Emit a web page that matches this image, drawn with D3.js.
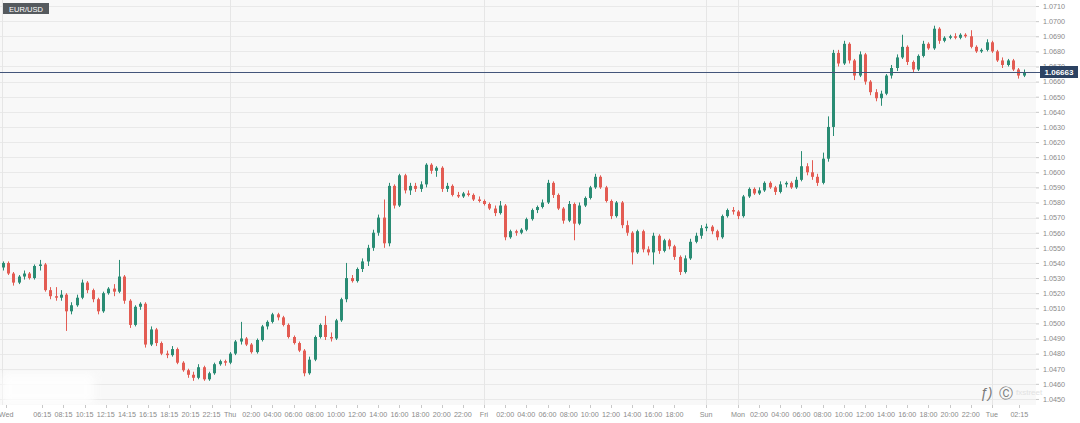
<!DOCTYPE html>
<html>
<head>
<meta charset="utf-8">
<script src="https://cdn.jsdelivr.net/npm/d3@7"></script>
<style>
    body { margin: 0; background: #fff; }
    svg { display: block; font-family: "Liberation Sans", Arial, sans-serif; }
</style>
</head>
<body>
<svg id="chart" width="1080" height="423"></svg>
<script>
const symbol = "EUR/USD";
const lastPrice = 1.06663;

// price grid / axis labels
const yTicks = [1.0450, 1.0460, 1.0470, 1.0480, 1.0490, 1.0500, 1.0510, 1.0520, 1.0530, 1.0540,
    1.0550, 1.0560, 1.0570, 1.0580, 1.0590, 1.0600, 1.0610, 1.0620, 1.0630, 1.0640,
    1.0650, 1.0660, 1.0670, 1.0680, 1.0690, 1.0700, 1.0710];

// time axis: position in candle index (30 min candles, weekend collapsed)
const xTickIndex = [0.65, 7.5, 11.5, 15.5, 19.5, 23.5, 27.5, 31.5, 35.5, 39.5,
    43, 47, 51, 55, 59, 63, 67, 71, 75, 79, 83, 87,
    91, 95, 99, 103, 107, 111, 115, 119, 123, 127,
    133, 139, 143, 147, 151, 155, 159, 163, 167, 171, 175, 179, 183,
    187, 192.2];
const xTickLabels = ["Wed", "06:15", "08:15", "10:15", "12:15", "14:15", "16:15", "18:15", "20:15", "22:15",
    "Thu", "02:00", "04:00", "06:00", "08:00", "10:00", "12:00", "14:00", "16:00", "18:00", "20:00", "22:00",
    "Fri", "02:00", "04:00", "06:00", "08:00", "10:00", "12:00", "14:00", "16:00", "18:00",
    "Sun", "Mon", "02:00", "04:00", "06:00", "08:00", "10:00", "12:00", "14:00", "16:00", "18:00", "20:00", "22:00",
    "Tue", "02:15"];
const daySeparators = [-0.2, 43, 91, 133, 139, 187];

// [open, high, low, close]
const ohlc = [
    [1.0537,1.0541,1.0535,1.0540],[1.0540,1.0541,1.0532,1.0533],[1.0533,1.0534,1.0525,1.0527],[1.0527,1.0532,1.0526,1.0531],
    [1.0531,1.0535,1.0529,1.0533],[1.0533,1.0534,1.0529,1.0530],[1.0530,1.0539,1.0529,1.0538],[1.0538,1.0542,1.0535,1.0539],
    [1.0539,1.0540,1.0521,1.0522],[1.0522,1.0524,1.0516,1.0518],[1.0518,1.0524,1.0515,1.0517],[1.0517,1.0522,1.0515,1.0519],
    [1.0519,1.0520,1.0495,1.0508],[1.0508,1.0514,1.0506,1.0512],[1.0512,1.0519,1.0511,1.0517],[1.0517,1.0529,1.0516,1.0527],
    [1.0527,1.0528,1.0520,1.0522],[1.0522,1.0523,1.0514,1.0516],[1.0516,1.0517,1.0506,1.0508],[1.0508,1.0521,1.0507,1.0520],
    [1.0520,1.0524,1.0519,1.0523],[1.0523,1.0526,1.0518,1.0521],[1.0521,1.0542,1.0520,1.0531],[1.0531,1.0532,1.0513,1.0515],
    [1.0515,1.0516,1.0497,1.0499],[1.0499,1.0512,1.0498,1.0511],[1.0511,1.0514,1.0509,1.0513],[1.0513,1.0514,1.0484,1.0486],
    [1.0486,1.0498,1.0485,1.0496],[1.0496,1.0497,1.0485,1.0487],[1.0487,1.0488,1.0479,1.0480],[1.0480,1.0482,1.0477,1.0479],
    [1.0479,1.0485,1.0478,1.0483],[1.0483,1.0484,1.0473,1.0474],[1.0474,1.0475,1.0468,1.0469],[1.0469,1.0470,1.0464,1.0466],
    [1.0466,1.0468,1.0462,1.0464],[1.0464,1.0473,1.0463,1.0471],[1.0471,1.0472,1.0462,1.0463],[1.0463,1.0468,1.0462,1.0467],
    [1.0467,1.0474,1.0466,1.0473],[1.0473,1.0476,1.0472,1.0475],[1.0475,1.0476,1.0472,1.0474],[1.0474,1.0481,1.0473,1.0480],
    [1.0480,1.0489,1.0479,1.0488],[1.0488,1.0501,1.0486,1.0490],[1.0490,1.0491,1.0485,1.0486],[1.0486,1.0487,1.0480,1.0481],
    [1.0481,1.0490,1.0480,1.0489],[1.0489,1.0499,1.0488,1.0498],[1.0498,1.0502,1.0496,1.0501],[1.0501,1.0507,1.0500,1.0506],
    [1.0506,1.0507,1.0502,1.0504],[1.0504,1.0505,1.0498,1.0499],[1.0499,1.0500,1.0490,1.0491],[1.0491,1.0492,1.0486,1.0487],
    [1.0487,1.0488,1.0481,1.0482],[1.0482,1.0483,1.0465,1.0467],[1.0467,1.0478,1.0466,1.0476],[1.0476,1.0492,1.0475,1.0491],
    [1.0491,1.0500,1.0490,1.0499],[1.0499,1.0505,1.0489,1.0491],[1.0491,1.0494,1.0488,1.0490],[1.0490,1.0503,1.0489,1.0502],
    [1.0502,1.0517,1.0501,1.0516],[1.0516,1.0540,1.0514,1.0530],[1.0530,1.0532,1.0527,1.0528],[1.0528,1.0537,1.0527,1.0536],
    [1.0536,1.0543,1.0534,1.0541],[1.0541,1.0552,1.0538,1.0550],[1.0550,1.0562,1.0548,1.0560],[1.0560,1.0572,1.0558,1.0570],
    [1.0570,1.0582,1.0550,1.0553],[1.0553,1.0593,1.0551,1.0591],[1.0591,1.0592,1.0576,1.0578],[1.0578,1.0599,1.0577,1.0598],
    [1.0598,1.0599,1.0586,1.0588],[1.0588,1.0593,1.0585,1.0591],[1.0591,1.0593,1.0587,1.0589],[1.0589,1.0594,1.0587,1.0592],
    [1.0592,1.0606,1.0590,1.0605],[1.0605,1.0606,1.0599,1.0601],[1.0601,1.0604,1.0597,1.0603],[1.0603,1.0604,1.0587,1.0589],
    [1.0589,1.0593,1.0587,1.0591],[1.0591,1.0592,1.0584,1.0585],[1.0585,1.0587,1.0583,1.0584],[1.0584,1.0587,1.0583,1.0586],
    [1.0586,1.0588,1.0584,1.0585],[1.0585,1.0586,1.0581,1.0582],[1.0582,1.0584,1.0580,1.0581],[1.0581,1.0582,1.0578,1.0579],
    [1.0579,1.0580,1.0575,1.0576],[1.0576,1.0578,1.0571,1.0573],[1.0573,1.0581,1.0572,1.0578],[1.0578,1.0579,1.0555,1.0557],
    [1.0557,1.0562,1.0556,1.0561],[1.0561,1.0562,1.0558,1.0560],[1.0560,1.0563,1.0559,1.0562],[1.0562,1.0570,1.0561,1.0569],
    [1.0569,1.0576,1.0568,1.0575],[1.0575,1.0578,1.0573,1.0577],[1.0577,1.0582,1.0576,1.0580],[1.0580,1.0595,1.0579,1.0593],
    [1.0593,1.0594,1.0583,1.0585],[1.0585,1.0586,1.0575,1.0576],[1.0576,1.0577,1.0566,1.0568],[1.0568,1.0581,1.0567,1.0579],
    [1.0579,1.0580,1.0555,1.0566],[1.0566,1.0580,1.0565,1.0578],[1.0578,1.0584,1.0577,1.0583],[1.0583,1.0591,1.0582,1.0590],
    [1.0590,1.0599,1.0589,1.0597],[1.0597,1.0598,1.0589,1.0590],[1.0590,1.0591,1.0580,1.0581],[1.0581,1.0582,1.0569,1.0571],
    [1.0571,1.0581,1.0570,1.0580],[1.0580,1.0581,1.0563,1.0565],[1.0565,1.0568,1.0558,1.0560],[1.0560,1.0561,1.0539,1.0547],
    [1.0547,1.0562,1.0546,1.0561],[1.0561,1.0562,1.0547,1.0549],[1.0549,1.0551,1.0545,1.0547],[1.0547,1.0560,1.0539,1.0558],
    [1.0558,1.0559,1.0546,1.0548],[1.0548,1.0556,1.0547,1.0555],[1.0555,1.0556,1.0549,1.0551],[1.0551,1.0552,1.0542,1.0544],
    [1.0544,1.0545,1.0532,1.0534],[1.0534,1.0545,1.0533,1.0543],[1.0543,1.0556,1.0542,1.0554],[1.0554,1.0560,1.0553,1.0558],
    [1.0558,1.0565,1.0556,1.0563],[1.0563,1.0566,1.0561,1.0564],[1.0564,1.0565,1.0559,1.0561],[1.0561,1.0562,1.0555,1.0557],
    [1.0557,1.0572,1.0556,1.0571],[1.0571,1.0576,1.0570,1.0575],[1.0575,1.0577,1.0572,1.0574],[1.0574,1.0575,1.0569,1.0571],
    [1.0571,1.0585,1.0570,1.0584],[1.0584,1.0590,1.0583,1.0589],[1.0589,1.0590,1.0585,1.0586],[1.0586,1.0590,1.0585,1.0588],
    [1.0588,1.0594,1.0587,1.0593],[1.0593,1.0594,1.0589,1.0590],[1.0590,1.0591,1.0585,1.0587],[1.0587,1.0594,1.0586,1.0592],
    [1.0592,1.0594,1.0590,1.0593],[1.0593,1.0594,1.0589,1.0590],[1.0590,1.0597,1.0589,1.0595],[1.0595,1.0614,1.0594,1.0604],
    [1.0604,1.0606,1.0598,1.0600],[1.0600,1.0608,1.0595,1.0597],[1.0597,1.0599,1.0591,1.0593],[1.0593,1.0613,1.0592,1.0609],
    [1.0609,1.0637,1.0607,1.0630],[1.0630,1.0681,1.0624,1.0679],[1.0679,1.0681,1.0670,1.0672],[1.0672,1.0687,1.0671,1.0685],
    [1.0685,1.0686,1.0672,1.0674],[1.0674,1.0675,1.0661,1.0664],[1.0664,1.0680,1.0663,1.0678],[1.0678,1.0679,1.0658,1.0660],
    [1.0660,1.0661,1.0651,1.0653],[1.0653,1.0655,1.0647,1.0649],[1.0649,1.0654,1.0644,1.0652],[1.0652,1.0665,1.0651,1.0664],
    [1.0664,1.0671,1.0662,1.0669],[1.0669,1.0678,1.0667,1.0676],[1.0676,1.0691,1.0675,1.0683],[1.0683,1.0684,1.0671,1.0673],
    [1.0673,1.0674,1.0666,1.0668],[1.0668,1.0678,1.0667,1.0677],[1.0677,1.0687,1.0676,1.0685],[1.0685,1.0686,1.0681,1.0682],
    [1.0682,1.0697,1.0681,1.0695],[1.0695,1.0696,1.0685,1.0687],[1.0687,1.0690,1.0686,1.0689],[1.0689,1.0691,1.0688,1.0690],
    [1.0690,1.0692,1.0688,1.0689],[1.0689,1.0692,1.0688,1.0691],[1.0691,1.0692,1.0689,1.0690],[1.0690,1.0694,1.0682,1.0683],
    [1.0683,1.0684,1.0679,1.0680],[1.0680,1.0682,1.0679,1.0681],[1.0681,1.0688,1.0680,1.0686],[1.0686,1.0687,1.0679,1.0680],
    [1.0680,1.0681,1.0673,1.0674],[1.0674,1.0676,1.0669,1.0671],[1.0671,1.0675,1.0670,1.0674],[1.0674,1.0675,1.0667,1.0668],
    [1.0668,1.0669,1.0662,1.0664],[1.0664,1.0668,1.0663,1.06663]
];

const width = 1080, height = 423;
const plot = {left: 0, top: 0, right: 1036, bottom: 405};

const upColor = "#2a8c74", downColor = "#e35c53";

let svg = d3.select("#chart");

let x = d3.scaleLinear().domain([-0.5, 195.34]).range([plot.left, plot.right]);
let y = d3.scaleLinear().domain([1.0446, 1.0714]).range([plot.bottom, plot.top]);

// backgrounds
svg.append("rect").attr("width", width).attr("height", height).attr("fill", "#ffffff");
svg.append("rect")
    .attr("x", plot.left).attr("y", plot.top)
    .attr("width", plot.right - plot.left).attr("height", plot.bottom - plot.top)
    .attr("fill", "#f8f8f8");

// horizontal grid
svg.append("g")
    .selectAll("line")
    .data(yTicks)
    .join("line")
    .attr("x1", plot.left).attr("x2", plot.right)
    .attr("y1", d => Math.round(y(d)) + 0.5).attr("y2", d => Math.round(y(d)) + 0.5)
    .attr("stroke", "#e9e9e9").attr("stroke-width", 1);

// day separators
svg.append("g")
    .selectAll("line")
    .data(daySeparators)
    .join("line")
    .attr("x1", d => Math.round(x(d)) + 0.5).attr("x2", d => Math.round(x(d)) + 0.5)
    .attr("y1", plot.top).attr("y2", plot.bottom)
    .attr("stroke", "#e6e6e6").attr("stroke-width", 1);

// watermark blur (bottom left)
let defs = svg.append("defs");
defs.append("filter").attr("id", "blur")
    .append("feGaussianBlur").attr("stdDeviation", 4);
svg.append("rect")
    .attr("x", 2).attr("y", 374).attr("width", 92).attr("height", 30)
    .attr("fill", "#ffffff").attr("opacity", 0.85)
    .attr("filter", "url(#blur)");

// candles
const candle = svg.append("g")
    .selectAll("g")
    .data(ohlc)
    .join("g")
    .attr("transform", (d, i) => "translate(" + Math.round(x(i)) + ",0)");

candle.append("line")
    .attr("x1", 0.5).attr("x2", 0.5)
    .attr("y1", d => y(d[1])).attr("y2", d => y(d[2]))
    .attr("stroke", d => d[3] >= d[0] ? upColor : downColor)
    .attr("stroke-width", 1);

candle.append("rect")
    .attr("x", -1)
    .attr("width", 3)
    .attr("y", d => y(Math.max(d[0], d[3])))
    .attr("height", d => Math.max(1, Math.abs(y(d[0]) - y(d[3]))))
    .attr("fill", d => d[3] >= d[0] ? upColor : downColor);

// logo watermark (bottom right), kept inside the plot
const logo = svg.append("g").attr("transform", "translate(980,398)").attr("fill", "#7a7a7a");
logo.append("text").attr("x", 0).style("font-size", "14px").style("font-style", "italic").text("ƒ)");
logo.append("text").attr("x", 19).style("font-size", "14px").text("Ⓒ");
logo.append("text").attr("x", 36).attr("y", -3).attr("fill", "#e2e2e2").style("font-size", "8px").text("fxstreet");

// current price line
svg.append("line")
    .attr("x1", plot.left).attr("x2", plot.right + 4)
    .attr("y1", Math.round(y(lastPrice)) + 0.5).attr("y2", Math.round(y(lastPrice)) + 0.5)
    .attr("stroke", "#43557a").attr("stroke-width", 1);

// y axis (right)
const yAxis = svg.append("g")
    .attr("transform", "translate(" + plot.right + ",0)")
    .call(d3.axisRight(y).tickValues(yTicks).tickSize(3).tickPadding(4).tickFormat(d3.format(".4f")));
yAxis.select(".domain").remove();
yAxis.selectAll(".tick line").attr("stroke", "#c8c8c8");
yAxis.selectAll(".tick text")
    .attr("fill", "#8a8a8a")
    .style("font-size", "7.2px");

// price tag (covers the tick label underneath, as in the original)
const tag = svg.append("g")
    .attr("transform", "translate(" + (plot.right + 4) + "," + Math.round(y(lastPrice)) + ")");
tag.append("rect")
    .attr("x", 0).attr("y", -6).attr("width", 38).attr("height", 12)
    .attr("fill", "#2c4262");
tag.append("text")
    .attr("x", 19).attr("y", 3)
    .attr("text-anchor", "middle")
    .attr("fill", "#ffffff")
    .style("font-size", "8px").style("font-weight", "bold")
    .text(d3.format(".5f")(lastPrice));

// x axis (bottom)
const xAxis = svg.append("g")
    .attr("transform", "translate(0," + plot.bottom + ")");
xAxis.selectAll("line")
    .data(xTickIndex)
    .join("line")
    .attr("x1", d => Math.round(x(d)) + 0.5).attr("x2", d => Math.round(x(d)) + 0.5)
    .attr("y1", 0).attr("y2", 3)
    .attr("stroke", "#c8c8c8");
xAxis.selectAll("text")
    .data(xTickIndex)
    .join("text")
    .attr("x", d => x(d))
    .attr("y", 12)
    .attr("text-anchor", "middle")
    .attr("fill", "#8a8a8a")
    .style("font-size", "7.2px")
    .text((d, i) => xTickLabels[i]);

// symbol label
const sym = svg.append("g").attr("transform", "translate(3,3)");
sym.append("rect").attr("width", 46).attr("height", 11).attr("fill", "#555a5e");
sym.append("text")
    .attr("x", 23).attr("y", 8.5)
    .attr("text-anchor", "middle")
    .attr("fill", "#ffffff")
    .style("font-size", "7.5px")
    .text(symbol);
</script>
</body>
</html>
